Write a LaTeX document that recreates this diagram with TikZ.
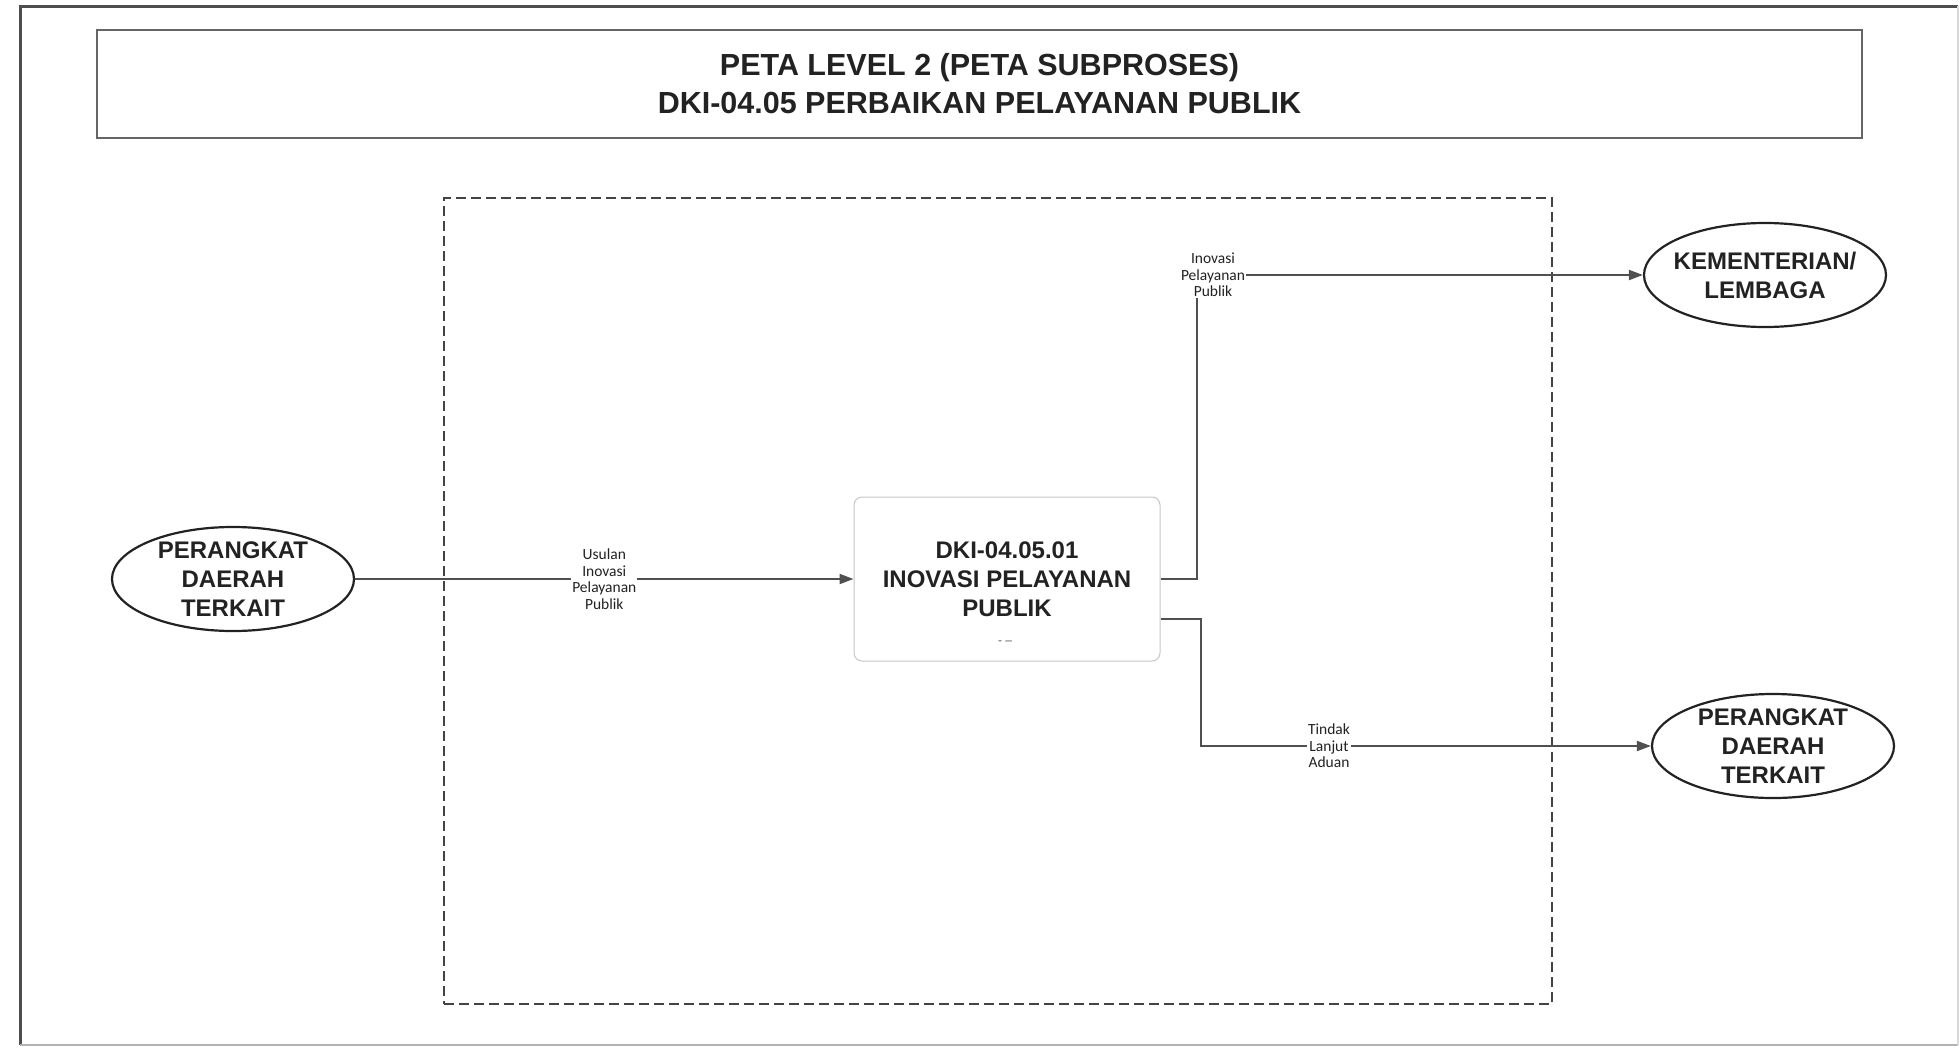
\documentclass[tikz,border=0pt]{standalone}
\usepackage{fontspec}
\setmainfont{Liberation Sans}
\newfontfamily\lblfont{Carlito}
\usetikzlibrary{arrows.meta,shapes.geometric}
\definecolor{ink}{HTML}{222222}
\definecolor{wire}{HTML}{505050}
\begin{document}
\begin{tikzpicture}[x=1pt,y=-1pt,
 titlebox/.style={draw=gray!80!black, line width=1.5pt, minimum width=1765pt, minimum height=108pt, align=center, font=\bfseries\fontsize{30.5}{38}\selectfont, text=ink},
 regionbox/.style={draw=ink!85, line width=1.8pt, dash pattern=on 10pt off 5pt, minimum width=1108pt, minimum height=806pt},
 entity/.style={ellipse, draw=ink, line width=2.2pt, minimum width=242pt, minimum height=104pt, inner xsep=-10pt, inner ysep=-4pt, align=center, font=\bfseries\fontsize{24}{29}\selectfont, text=ink},
 procbox/.style={draw=gray!45, line width=1pt, rounded corners=8pt, minimum width=306pt, minimum height=164pt, align=center, font=\bfseries\fontsize{24}{29}\selectfont, text=ink},
 flow/.style={draw=wire, line width=2pt, -{Triangle[length=14pt,width=10pt]}},
 flowlbl/.style={fill=white, inner sep=1pt, align=center, font=\lblfont\fontsize{15.5}{16.5}\selectfont, text=ink},
]
\useasboundingbox (0,0) rectangle (1960,1047);
\draw[line width=3pt, draw=ink!80] (20,1045) -- (20,6) -- (1958,6);
\draw[line width=2pt, draw=gray!60] (20,1045) -- (1958,1045);
\draw[line width=1.5pt, draw=gray!30] (1958,6) -- (1958,1045);
\node[titlebox] (title) at (979.5,84) {PETA LEVEL 2 (PETA SUBPROSES)\\DKI-04.05 PERBAIKAN PELAYANAN PUBLIK};
\node[regionbox] (region) at (998,601) {};
\node[entity] (src) at (233,579) {PERANGKAT\\DAERAH\\TERKAIT};
\node[entity] (kem) at (1765,275) {KEMENTERIAN/\\LEMBAGA};
\node[entity] (pdr) at (1773,746) {PERANGKAT\\DAERAH\\TERKAIT};
\node[procbox] (proc) at (1007,579) {DKI-04.05.01\\INOVASI PELAYANAN\\PUBLIK};
\node[font=\fontsize{12}{12}\selectfont, text=ink!75, inner sep=0pt] (mark) at (1005,643) {- –};
\draw[flow] (src.east) -- (proc.west) node[flowlbl, pos=0.5] (lblU) {Usulan\\Inovasi\\Pelayanan\\Publik};
\draw[flow] (proc.east) -- ++(36,0) |- (kem.west);
\node[flowlbl] (lblI) at (1213,275) {Inovasi\\Pelayanan\\Publik};
\draw[flow] ([yshift=-40pt]proc.east) -- ++(40,0) |- (pdr.west);
\node[flowlbl] (lblT) at (1329,746) {Tindak\\Lanjut\\Aduan};
\end{tikzpicture}
\end{document}
